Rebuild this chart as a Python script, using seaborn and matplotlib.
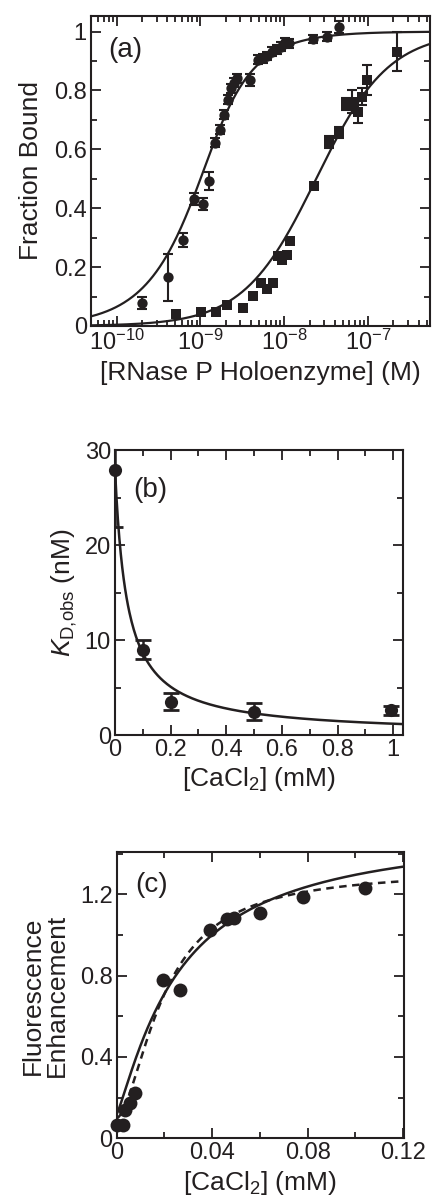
import numpy as np
import pandas as pd
import matplotlib
matplotlib.use("Agg")
import matplotlib.pyplot as plt
import seaborn as sns
from matplotlib.ticker import MultipleLocator, FuncFormatter, FixedLocator, NullFormatter

INK = "#231f20"

# ---- panel (a): fraction bound vs [RNase P holoenzyme] (M)
circ_x = [2.0e-10, 4.1e-10, 6.1e-10, 8.4e-10, 1.06e-9, 1.27e-9, 1.48e-9, 1.7e-9, 1.9e-9,
          2.13e-9, 2.3e-9, 2.5e-9, 2.75e-9, 3.9e-9, 4.9e-9, 5.5e-9, 6.3e-9, 7.2e-9,
          8.2e-9, 9.1e-9, 1.01e-8, 1.14e-8, 2.2e-8, 3.25e-8, 4.45e-8]
circ_y = [0.079, 0.165, 0.292, 0.43, 0.413, 0.493, 0.623, 0.666, 0.717, 0.768, 0.807,
          0.827, 0.841, 0.836, 0.904, 0.909, 0.917, 0.932, 0.94, 0.949, 0.963, 0.96,
          0.975, 0.983, 1.015]
circ_err = [0.02, 0.08, 0.025, 0.02, 0.02, 0.03, 0.015, 0.015, 0.015, 0.015, 0.015,
            0.015, 0.015, 0.02, 0.015, 0.015, 0.015, 0.015, 0.015, 0.015, 0.015, 0.015,
            0.015, 0.015, 0.02]
sq_x = [5.1e-10, 1.02e-9, 1.55e-9, 2.1e-9, 3.2e-9, 4.2e-9, 5.3e-9, 6.3e-9, 7.4e-9,
        8.3e-9, 9.4e-9, 1.07e-8, 1.17e-8, 2.27e-8, 3.4e-8, 4.45e-8, 5.5e-8, 6.5e-8,
        7.5e-8, 8.5e-8, 9.8e-8, 2.2e-7]
sq_y = [0.04, 0.049, 0.049, 0.071, 0.06, 0.102, 0.145, 0.125, 0.147, 0.236, 0.224,
        0.241, 0.29, 0.476, 0.626, 0.657, 0.754, 0.762, 0.728, 0.779, 0.836, 0.932]
sq_err = [0.0, 0.0, 0.0, 0.0, 0.0, 0.0, 0.0, 0.0, 0.0, 0.0, 0.0, 0.0, 0.0, 0.0,
          0.02, 0.02, 0.02, 0.04, 0.04, 0.03, 0.05, 0.065]
a_major = [1e-10, 1e-9, 1e-8, 1e-7]
# fit parameters
fit_a_K1, fit_a_R1 = 0.5e-9, 1.0e-9     # quadratic binding (circles)
fit_a_K2 = 2.4e-8                        # hyperbolic binding (squares)

# ---- panel (b): K_D,obs vs [CaCl2]
kd_x = [0.0, 0.1, 0.2, 0.5, 0.99]
kd_y = [27.9, 9.0, 3.5, 2.45, 2.6]
kd_err = [6.0, 1.0, 0.9, 0.9, 0.5]
fit_b_K0, fit_b_Kca = 28.0, 0.0443

# ---- panel (c): fluorescence enhancement vs [CaCl2]
fl_x = [0.0, 0.0028, 0.0035, 0.0056, 0.0077, 0.0196, 0.0267, 0.039, 0.0463, 0.049,
        0.060, 0.0779, 0.1039]
fl_y = [0.066, 0.066, 0.139, 0.172, 0.225, 0.779, 0.73, 1.025, 1.077, 1.082, 1.11,
        1.189, 1.23]
fit_c_solid = dict(y0=0.12, A=1.413, K=0.0263, n=1.2)
fit_c_dash = dict(y0=0.10, A=1.22, K=0.020, n=1.7)


def hill(x, y0, A, K, n):
    return y0 + A * x ** n / (K ** n + x ** n)


sns.set_theme(style="ticks")
plt.rcParams["font.family"] = ["Liberation Sans", "DejaVu Sans"]
plt.rcParams["mathtext.fontset"] = "custom"
plt.rcParams["mathtext.rm"] = "Liberation Sans"
plt.rcParams["mathtext.it"] = "Liberation Sans:italic"
plt.rcParams["axes.linewidth"] = 1.5
plt.rcParams["axes.edgecolor"] = INK
plt.rcParams["text.color"] = INK
plt.rcParams["axes.labelcolor"] = INK
plt.rcParams["xtick.color"] = INK
plt.rcParams["ytick.color"] = INK

fig = plt.figure(figsize=(4.32, 12.01), dpi=100)
ax_a = fig.add_axes([0.2106, 0.7286, 0.7847, 0.2581])
ax_b = fig.add_axes([0.2662, 0.3880, 0.6674, 0.2373])
ax_c = fig.add_axes([0.2701, 0.0522, 0.6650, 0.2381])

TICK_FS = 17
LAB_FS = 19


def style_axes(ax):
    ax.tick_params(which="both", direction="in", top=True, right=True,
                   labelsize=TICK_FS, width=1.3, color=INK)
    ax.tick_params(which="major", length=7, pad=3)
    ax.tick_params(which="minor", length=4)
    for s in ax.spines.values():
        s.set_color(INK)
        s.set_linewidth(1.5)


# ---- (a)
xs = np.logspace(np.log10(4.93e-11), np.log10(5.48e-7), 400)
S = xs + fit_a_K1 + fit_a_R1
curve1 = (S - np.sqrt(S ** 2 - 4 * xs * fit_a_R1)) / (2 * fit_a_R1)
curve2 = xs / (fit_a_K2 + xs)
df_fit_a = pd.DataFrame({"x": np.concatenate([xs, xs]),
                         "y": np.concatenate([curve1, curve2]),
                         "fit": ["c"] * len(xs) + ["s"] * len(xs)})
sns.lineplot(data=df_fit_a, x="x", y="y", units="fit", estimator=None,
             color=INK, lw=1.6, ax=ax_a, legend=False)
ax_a.errorbar(circ_x, circ_y, yerr=circ_err, fmt="none", ecolor=INK, elinewidth=1.5,
              capsize=3.5, capthick=1.5)
ax_a.errorbar(sq_x, sq_y, yerr=sq_err, fmt="none", ecolor=INK, elinewidth=1.5,
              capsize=3.5, capthick=1.5)
sns.scatterplot(x=circ_x, y=circ_y, marker="o", s=55, color=INK, edgecolor=INK,
                linewidth=0, ax=ax_a, zorder=3)
sns.scatterplot(x=sq_x, y=sq_y, marker="s", s=45, color=INK, edgecolor=INK,
                linewidth=0, ax=ax_a, zorder=3)
ax_a.set_xscale("log")
ax_a.set_xlim(4.93e-11, 5.48e-7)
ax_a.set_ylim(0, 1.053)
minors = [m * d for d in [1e-11, 1e-10, 1e-9, 1e-8, 1e-7] for m in range(2, 10)]
minors = [m for m in minors if 4.93e-11 <= m <= 5.48e-7]
ax_a.xaxis.set_major_locator(FixedLocator(a_major))
ax_a.xaxis.set_major_formatter(FuncFormatter(
    lambda v, p: "$\\mathdefault{10^{%d}}$" % round(np.log10(v))))
ax_a.xaxis.set_minor_locator(FixedLocator(minors))
ax_a.xaxis.set_minor_formatter(NullFormatter())
ax_a.yaxis.set_major_locator(MultipleLocator(0.2))
ax_a.yaxis.set_minor_locator(MultipleLocator(0.1))
ax_a.yaxis.set_major_formatter(FuncFormatter(lambda v, p: f"{v:g}"))
style_axes(ax_a)
ax_a.set_xlabel("[RNase P Holoenzyme] (M)", fontsize=LAB_FS, labelpad=4)
ax_a.set_ylabel("Fraction Bound", fontsize=LAB_FS, labelpad=8)
ax_a.text(0.05, 0.89, "(a)", transform=ax_a.transAxes, fontsize=20, va="center")

# ---- (b)
xb = np.linspace(0, 1.036, 400)
df_fit_b = pd.DataFrame({"x": xb, "y": fit_b_K0 / (1 + xb / fit_b_Kca)})
sns.lineplot(data=df_fit_b, x="x", y="y", color=INK, lw=1.8, ax=ax_b)
ax_b.errorbar(kd_x, kd_y, yerr=kd_err, fmt="none", ecolor=INK, elinewidth=1.8,
              capsize=6, capthick=2)
sns.scatterplot(x=kd_x, y=kd_y, marker="o", s=90, color=INK, edgecolor=INK,
                linewidth=0, ax=ax_b, zorder=3, clip_on=False)
ax_b.set_xlim(0, 1.036)
ax_b.set_ylim(0, 30)
ax_b.xaxis.set_major_locator(MultipleLocator(0.2))
ax_b.xaxis.set_minor_locator(MultipleLocator(0.1))
ax_b.yaxis.set_major_locator(MultipleLocator(10))
ax_b.yaxis.set_minor_locator(MultipleLocator(5))
ax_b.xaxis.set_major_formatter(FuncFormatter(lambda v, p: f"{v:g}"))
style_axes(ax_b)
ax_b.set_xlabel("[CaCl$_2$] (mM)", fontsize=LAB_FS, labelpad=3)
ax_b.set_ylabel("$K_{\\mathrm{D{,}obs}}$ (nM)", fontsize=LAB_FS, labelpad=4)
ax_b.text(0.062, 0.86, "(b)", transform=ax_b.transAxes, fontsize=20, va="center")

# ---- (c)
xc = np.linspace(0, 0.1203, 400)
df_fit_c = pd.DataFrame({"x": np.concatenate([xc, xc]),
                         "y": np.concatenate([hill(xc, **fit_c_solid), hill(xc, **fit_c_dash)]),
                         "fit": ["solid"] * len(xc) + ["dash"] * len(xc)})
sns.lineplot(data=df_fit_c, x="x", y="y", style="fit", dashes={"solid": "", "dash": (3, 2.2)},
             color=INK, lw=1.8, ax=ax_c, legend=False)
sns.scatterplot(x=fl_x, y=fl_y, marker="o", s=100, color=INK, edgecolor=INK,
                linewidth=0, ax=ax_c, zorder=3, clip_on=False)
ax_c.set_xlim(0, 0.1203)
ax_c.set_ylim(0, 1.4066)
ax_c.xaxis.set_major_locator(MultipleLocator(0.04))
ax_c.xaxis.set_minor_locator(MultipleLocator(0.02))
ax_c.yaxis.set_major_locator(MultipleLocator(0.4))
ax_c.yaxis.set_minor_locator(MultipleLocator(0.2))
ax_c.xaxis.set_major_formatter(FuncFormatter(lambda v, p: f"{v:g}"))
ax_c.yaxis.set_major_formatter(FuncFormatter(lambda v, p: f"{v:g}"))
style_axes(ax_c)
ax_c.set_xlabel("[CaCl$_2$] (mM)", fontsize=LAB_FS, labelpad=3)
ax_c.set_ylabel("Fluorescence\nEnhancement", fontsize=LAB_FS, labelpad=8,
                linespacing=1.0)
ax_c.text(0.064, 0.886, "(c)", transform=ax_c.transAxes, fontsize=20, va="center")

fig.savefig("out.png", dpi=100)
